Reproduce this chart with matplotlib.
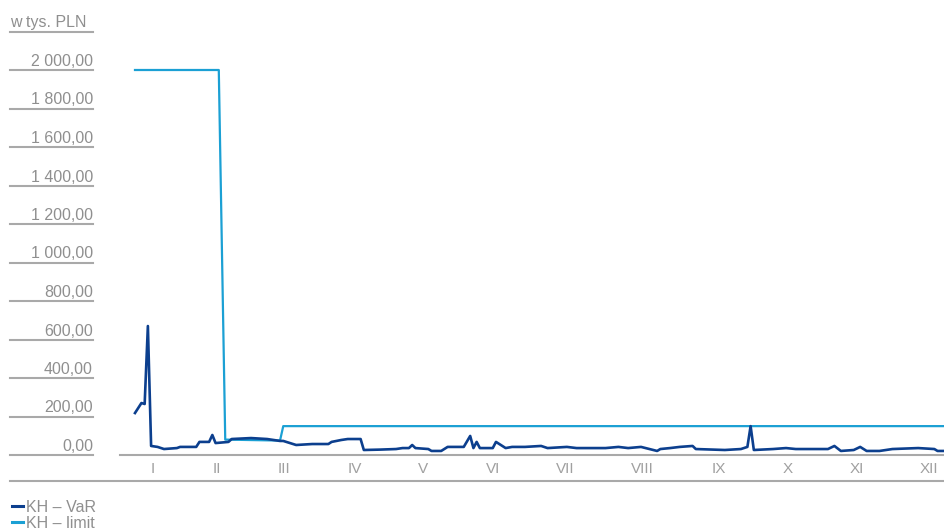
import matplotlib
matplotlib.use("Agg")
import matplotlib.pyplot as plt
import matplotlib.transforms as mtransforms
from matplotlib.lines import Line2D

plt.rcParams["font.family"] = ["Liberation Sans", "DejaVu Sans"]

# trading-day index (0 .. 251) and values in thousand PLN
var_days = [0, 2, 3, 4, 5, 7, 9, 13, 14, 19, 20, 23, 24, 25, 29, 30, 36, 41, 45, 46,
            50, 55, 60, 61, 64, 66, 70, 71, 76, 81, 83, 85, 86, 87, 91, 92, 95, 97,
            102, 104, 105, 106, 107, 111, 112, 115, 117, 121, 126, 128, 134, 137, 146,
            150, 153, 157, 162, 163, 166, 169, 173, 174, 183, 188, 190, 191, 192, 198,
            202, 205, 215, 217, 219, 223, 225, 227, 231, 235, 243, 248, 249, 251]
var_values = [218, 270, 265, 670, 47, 42, 31, 36, 42, 42, 68, 68, 104, 62, 68, 83, 88, 83, 73, 73,
              52, 57, 57, 68, 78, 83, 83, 26, 28, 31, 36, 36, 52, 36, 31, 21, 21, 42,
              42, 99, 36, 68, 36, 36, 68, 36, 42, 42, 47, 36, 42, 36, 36,
              42, 36, 42, 21, 31, 36, 42, 47, 31, 26, 31, 42, 150, 26, 31,
              36, 31, 31, 47, 21, 26, 42, 21, 21, 31, 36, 31, 21, 21]

limit_days = [0, 26, 28, 45, 46, 251]
limit_values = [2000, 2000, 80, 75, 150, 150]

month_pos = [5.6, 25.4, 46.2, 68.3, 89.4, 111.1, 133.4, 157.3, 181.2, 202.6, 224.0, 246.4]
month_labels = ["I", "II", "III", "IV", "V", "VI", "VII", "VIII", "IX", "X", "XI", "XII"]

y_ticks = [0, 200, 400, 600, 800, 1000, 1200, 1400, 1600, 1800, 2000]
y_labels = ["0,00", "200,00", "400,00", "600,00", "800,00", "1 000,00", "1 200,00",
            "1 400,00", "1 600,00", "1 800,00", "2 000,00"]

series_names = ["KH \u2013 VaR", "KH \u2013 limit"]

W, H = 944, 530
fig = plt.figure(figsize=(W / 100, H / 100), dpi=100)
ax = fig.add_axes([120 / W, 1 - 455 / H, 824 / W, (455 - 31.5) / H])

dark = "#0c3f8e"
light = "#1ba0d4"
grey = "#a9a9a9"
txt = "#8f8f8f"
fs = 11.5

ax.plot(limit_days, limit_values, color=light, lw=1.6)
ax.plot(var_days, var_values, color=dark, lw=1.9)

ax.set_xlim(-4.65, 251)
ax.set_ylim(0, 2200)
for s in ax.spines.values():
    s.set_visible(False)
ax.set_yticks([])
ax.set_xticks(month_pos)
ax.set_xticklabels(month_labels)
ax.tick_params(axis="x", length=0, pad=5, labelsize=11, labelcolor="#a0a0a0")
ax.axhline(0, color=grey, lw=1.5, clip_on=False)

# y labels on the left with short rules under each
trans = mtransforms.blended_transform_factory(fig.transFigure, ax.transData)
ttrans = mtransforms.offset_copy(trans, fig=fig, y=4, units="dots")
for v, lab in zip(y_ticks, y_labels):
    ax.plot([10 / W, 93 / W], [v, v], transform=trans, color=grey, lw=1.5, clip_on=False)
    ax.text(93 / W, v, lab, transform=ttrans, ha="right", va="baseline",
            fontsize=fs, color=txt)
ax.plot([10 / W, 93 / W], [2200, 2200], transform=trans, color=grey, lw=1.5, clip_on=False)
ax.text(10 / W, 2200, "w tys. PLN", transform=ttrans, ha="left", va="baseline",
        fontsize=fs, color=txt)

fig.add_artist(Line2D([10 / W, 1], [1 - 481 / H, 1 - 481 / H], color=grey, lw=1.5))

# legend drawn by hand at the bottom left
for i, (name, col) in enumerate(zip(series_names, [dark, light])):
    yy = 1 - (506 + 16 * i) / H
    fig.add_artist(Line2D([12 / W, 23 / W], [yy, yy], color=col, lw=2.2))
    fig.text(26 / W, 1 - (511.5 + 16 * i) / H, name, ha="left", va="baseline",
             fontsize=fs, color=txt)

fig.savefig("out.png", dpi=100)
